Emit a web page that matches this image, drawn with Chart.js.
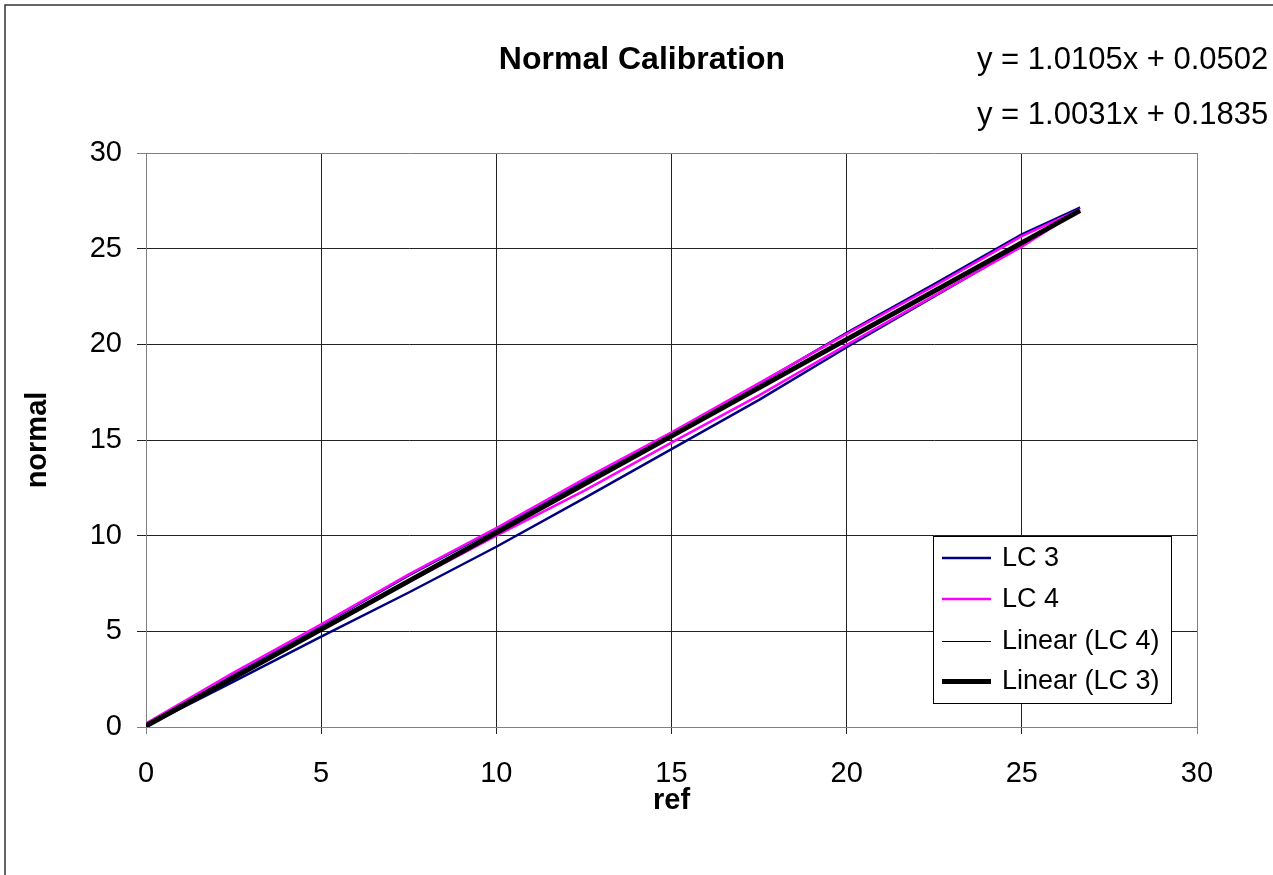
<!DOCTYPE html>
<html lang="en">
<head>
  <meta charset="UTF-8">
  <title>Normal Calibration</title>
  <script src="https://cdn.jsdelivr.net/npm/chart.js"></script>
  <style>
    html, body {
      margin: 0;
      padding: 0;
      background: #fff;
    }
    #wrap {
      width: 1273px;
      height: 875px;
    }
  </style>
</head>
<body>
  <div id="wrap"><canvas id="calChart" width="1273" height="875"></canvas></div>

  <script>
    // LC 3: lower branch going up, upper branch coming back
    const lc3Ref    = [0, 2.5, 5, 7.5, 10, 12.5, 15, 17.5, 20, 22.5, 25, 26.66,
                       25, 22.5, 20, 17.5, 15, 12.5, 10, 7.5, 5, 2.5, 0];
    const lc3Normal = [0.05, 2.37, 4.72, 7.03, 9.42, 11.95, 14.52, 17.1, 19.85, 22.5, 25.15, 27.15,
                       25.75, 23.15, 20.6, 17.93, 15.35, 12.88, 10.35, 7.92, 5.31, 2.78, 0.12];

    // LC 4: same loop, tighter
    const lc4Ref    = [0, 2.5, 5, 7.5, 10, 12.5, 15, 17.5, 20, 22.5, 25, 26.66,
                       25, 22.5, 20, 17.5, 15, 12.5, 10, 7.5, 5, 2.5, 0];
    const lc4Normal = [0.12, 2.58, 5.08, 7.58, 10.0, 12.34, 14.86, 17.33, 19.97, 22.55, 25.1, 27.05,
                       25.65, 23.05, 20.55, 17.97, 15.4, 12.95, 10.4, 7.98, 5.36, 2.84, 0.18];

    // trendline end points
    const trendRef = [0, 26.66];
    const trendLC3 = [0.05, 26.99];
    const trendLC4 = [0.18, 26.93];

    const axisTicks = [0, 5, 10, 15, 20, 25, 30];
    const equations = ['y = 1.0105x + 0.0502', 'y = 1.0031x + 0.1835'];

    const FONT = "'Liberation Sans', Arial, sans-serif";

    function toPoints(xs, ys) {
      return xs.map((x, i) => ({ x: x, y: ys[i] }));
    }

    const decorations = {
      id: 'decorations',
      beforeDraw(chart) {
        const ctx = chart.ctx;
        ctx.save();
        ctx.fillStyle = '#fff';
        ctx.fillRect(0, 0, chart.width, chart.height);
        ctx.strokeStyle = '#333';
        ctx.lineWidth = 1.5;
        ctx.strokeRect(5, 5, chart.width + 20, chart.height + 20);
        ctx.restore();
      },
      afterDraw(chart) {
        const ctx = chart.ctx;
        ctx.save();
        ctx.fillStyle = '#000';
        ctx.textBaseline = 'middle';

        // title
        ctx.font = "bold 32px " + FONT;
        ctx.textAlign = 'center';
        ctx.fillText('Normal Calibration', 642, 60);

        // trendline equations
        ctx.font = "31px " + FONT;
        ctx.textAlign = 'left';
        ctx.fillText(equations[0], 977, 60);
        ctx.fillText(equations[1], 977, 115);

        // legend box
        ctx.fillStyle = '#fff';
        ctx.fillRect(933.5, 536.5, 238, 167);
        ctx.strokeStyle = '#000';
        ctx.lineWidth = 1;
        ctx.strokeRect(933.5, 536.5, 238, 167);

        const rows = [558, 599, 641, 681];
        ctx.font = "27px " + FONT;
        chart.data.datasets.forEach((ds, i) => {
          const y = ds.borderWidth % 2 === 1 ? rows[i] + 0.5 : rows[i];
          ctx.beginPath();
          ctx.strokeStyle = ds.borderColor;
          ctx.lineWidth = ds.borderWidth;
          ctx.moveTo(942, y);
          ctx.lineTo(991, y);
          ctx.stroke();
          ctx.fillStyle = '#000';
          ctx.fillText(ds.label, 1002, rows[i] + 1);
        });
        ctx.restore();
      }
    };

    const gridColor = c => (c.tick && (c.tick.value === 0 || c.tick.value === 30)) ? '#808080' : '#222';

    new Chart(document.getElementById('calChart'), {
      type: 'scatter',
      data: {
        datasets: [
          {
            label: 'LC 3',
            data: toPoints(lc3Ref, lc3Normal),
            borderColor: '#000080',
            borderWidth: 2.5,
            showLine: true,
            pointRadius: 0,
            order: 3
          },
          {
            label: 'LC 4',
            data: toPoints(lc4Ref, lc4Normal),
            borderColor: '#ff00ff',
            borderWidth: 2.5,
            showLine: true,
            pointRadius: 0,
            order: 2
          },
          {
            label: 'Linear (LC 4)',
            data: toPoints(trendRef, trendLC4),
            borderColor: '#000',
            borderWidth: 1,
            showLine: true,
            pointRadius: 0,
            order: 1
          },
          {
            label: 'Linear (LC 3)',
            data: toPoints(trendRef, trendLC3),
            borderColor: '#000',
            borderWidth: 5,
            showLine: true,
            pointRadius: 0,
            order: 0
          }
        ]
      },
      options: {
        responsive: false,
        animation: false,
        devicePixelRatio: 1,
        layout: { padding: { left: 0, top: 153, right: 76, bottom: 0 } },
        plugins: {
          legend: { display: false },
          tooltip: { enabled: false }
        },
        scales: {
          x: {
            type: 'linear',
            min: 0,
            max: 30,
            afterBuildTicks: s => { s.ticks = axisTicks.map(v => ({ value: v })); },
            afterFit: s => { s.height = 148; },
            grid: { color: gridColor, tickLength: 7, lineWidth: 1 },
            border: { color: '#808080' },
            ticks: { color: '#000', padding: 23, font: { size: 29, family: FONT } },
            title: {
              display: true,
              text: 'ref',
              color: '#000',
              font: { size: 29, weight: 'bold', family: FONT },
              padding: { top: 0, bottom: 57 }
            }
          },
          y: {
            type: 'linear',
            min: 0,
            max: 30,
            afterBuildTicks: s => { s.ticks = axisTicks.map(v => ({ value: v })); },
            afterFit: s => { s.width = 146; },
            grid: { color: gridColor, tickLength: 9, lineWidth: 1 },
            border: { color: '#808080' },
            ticks: { color: '#000', padding: 15, font: { size: 29, family: FONT } },
            title: {
              display: true,
              text: 'normal',
              color: '#000',
              font: { size: 29, weight: 'bold', family: FONT },
              padding: { top: 21, bottom: 0 }
            }
          }
        }
      },
      plugins: [decorations]
    });
  </script>
</body>
</html>
